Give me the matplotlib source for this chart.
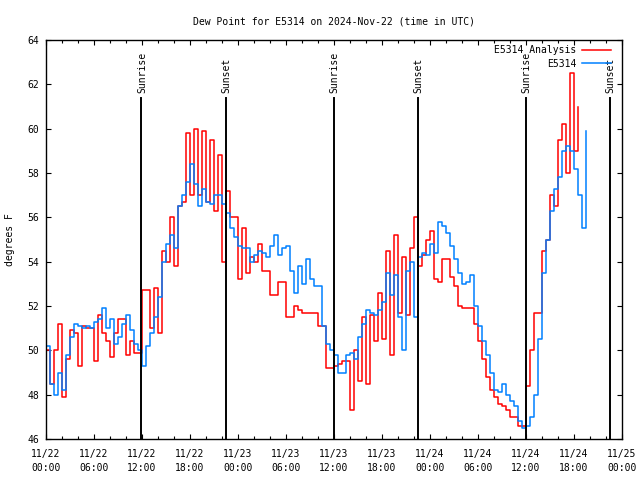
import numpy as np
import matplotlib
matplotlib.use("Agg")
from matplotlib import pyplot as plt

# hours since 2024-11-22 00:00 UTC, one reading every half hour
obs_start = 0.0
analysis_start = 0.0
step = 0.5

# E5314 station dew point (F)
obs = [50.2, 48.5, 48.0, 49.0, 48.2, 49.8, 50.6, 51.2, 51.1, 51.0,
       51.1, 51.0, 51.3, 51.4, 51.9, 51.0, 51.4, 50.3, 50.6, 51.2,
       51.6, 50.9, 50.3, 50.0, 49.3, 50.2, 50.8, 51.5, 52.4, 54.0,
       54.8, 55.2, 54.6, 56.5, 57.0, 57.6, 58.4, 57.5, 56.5, 57.3,
       56.7, 56.6, 57.0, 57.0, 56.6, 56.2, 55.5, 55.1, 54.7, 54.6,
       54.6, 54.0, 54.3, 54.5, 54.4, 54.2, 54.7, 55.2, 54.3, 54.6,
       54.7, 53.6, 52.6, 53.8, 53.0, 54.1, 53.2, 52.9, 52.9, 51.1,
       50.3, 50.0, 49.8, 49.0, 49.0, 49.8, 49.9, 49.6, 50.6, 51.2,
       51.8, 51.7, 51.6, 51.8, 52.2, 53.5, 52.5, 53.4, 51.5, 50.0,
       53.6, 54.0, 51.5, 54.2, 54.4, 54.3, 54.8, 54.4, 55.8, 55.6,
       55.3, 54.7, 54.1, 53.5, 53.0, 53.1, 53.4, 52.0, 51.1, 50.4,
       49.8, 49.0, 48.2, 48.1, 48.5, 48.0, 47.7, 47.5, 46.8, 46.5,
       46.6, 47.0, 48.0, 50.5, 53.5, 55.0, 56.3, 57.3, 57.8, 59.0,
       59.2, 59.0, 58.2, 57.0, 55.5, 59.9]

# E5314 analysis dew point (F)
analysis = [50.0, 48.5, 50.0, 51.2, 47.9, 49.6, 50.9, 50.8, 49.3, 51.1,
            51.0, 51.0, 49.5, 51.6, 50.8, 50.4, 49.7, 50.8, 51.4, 51.4,
            49.8, 50.4, 49.9, 49.9, 52.7, 52.7, 51.0, 52.8, 50.8, 54.5,
            54.0, 56.0, 53.8, 56.5, 56.7, 59.8, 57.0, 60.0, 57.0, 59.9,
            56.7, 59.5, 56.3, 58.8, 54.0, 57.2, 56.0, 56.0, 53.2, 55.5,
            53.5, 54.2, 54.0, 54.8, 53.6, 53.6, 52.5, 52.5, 53.1, 53.1,
            51.5, 51.5, 52.0, 51.8, 51.7, 51.7, 51.7, 51.7, 51.1, 51.1,
            49.2, 49.2, 49.3, 49.4, 49.5, 49.5, 47.3, 50.0, 48.6, 51.5,
            48.5, 51.6, 50.4, 52.6, 50.5, 54.5, 49.8, 55.2, 51.7, 54.2,
            51.6, 54.6, 56.0, 53.8, 54.3, 55.0, 55.4, 53.2, 53.1, 54.1,
            54.1, 53.3, 52.9, 52.0, 51.9, 51.9, 51.9, 51.2, 50.4, 49.6,
            48.8, 48.2, 47.9, 47.6, 47.5, 47.3, 47.0, 47.0, 46.6, 46.6,
            48.4, 50.0, 51.7, 51.7, 54.5, 55.0, 57.0, 56.5, 59.5, 60.2,
            58.0, 62.5, 59.0, 61.0]

sun_hours = [11.9, 22.5, 36.0, 46.5, 60.0, 70.5]
sun_names = ["Sunrise", "Sunset", "Sunrise", "Sunset", "Sunrise", "Sunset"]

tick_hours = list(range(0, 73, 6))
tick_labels = ["11/22\n00:00", "11/22\n06:00", "11/22\n12:00", "11/22\n18:00",
               "11/23\n00:00", "11/23\n06:00", "11/23\n12:00", "11/23\n18:00",
               "11/24\n00:00", "11/24\n06:00", "11/24\n12:00", "11/24\n18:00",
               "11/25\n00:00"]

plt.rcParams['font.family'] = ['DejaVu Sans Mono']
plt.rcParams['font.size'] = 7

t_obs = obs_start + step * np.arange(len(obs))
t_ana = analysis_start + step * np.arange(len(analysis))

fig = plt.figure(figsize=(6.4, 4.8), dpi=100)
ax = fig.add_axes([46 / 640, 1 - 439 / 480, 576 / 640, 399 / 480])

ax.plot(t_ana, analysis, color='#ff0000', lw=1.1, drawstyle='steps-post', label='E5314 Analysis')
ax.plot(t_obs, obs, color='#0080ff', lw=1.1, drawstyle='steps-post', label='E5314')

# sunrise / sunset markers
for h, name in zip(sun_hours, sun_names):
    ax.plot([h, h], [46, 61.4], color='black', lw=1.4)
    ax.text(h + 0.1, 61.6, name, rotation=90, ha='center', va='bottom')

ax.set_xlim(0, 72)
ax.set_ylim(46, 64)
ax.set_xticks(tick_hours)
ax.set_xticklabels(tick_labels, linespacing=1.5)
ax.set_xticks(np.arange(0, 73, 2), minor=True)
ax.set_yticks(np.arange(46, 65, 2))
ax.tick_params(which='both', direction='in', top=True, right=True, pad=5)
ax.tick_params(axis='x', which='major', pad=7)
ax.tick_params(which='major', length=3.5, width=0.8)
ax.tick_params(which='minor', length=2.2, width=0.8)
for s in ax.spines.values():
    s.set_linewidth(1.0)

ax.set_ylabel('degrees F', labelpad=9)
ax.set_title('Dew Point for E5314 on 2024-Nov-22 (time in UTC)', fontsize=7, pad=11)

ax.legend(loc='upper right', bbox_to_anchor=(0.981, 0.987), markerfirst=False,
          frameon=False, borderpad=0, borderaxespad=0, handlelength=3.0,
          handletextpad=0.6, labelspacing=0.35)

fig.savefig('out.png', dpi=100)
